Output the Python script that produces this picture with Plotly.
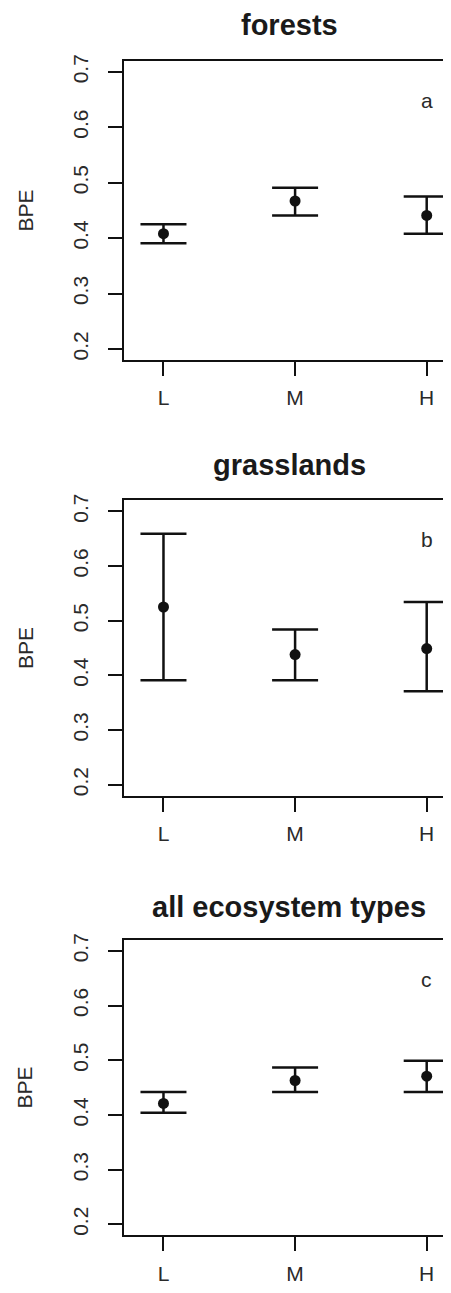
import plotly.graph_objects as go

categories = ["L", "M", "H"]
panel_titles = ["forests", "grasslands", "all ecosystem types"]
panel_letters = ["a", "b", "c"]

forests_mean = [0.408, 0.467, 0.441]
forests_upper = [0.425, 0.491, 0.475]
forests_lower = [0.391, 0.441, 0.408]

grass_mean = [0.525, 0.438, 0.449]
grass_upper = [0.659, 0.484, 0.534]
grass_lower = [0.391, 0.391, 0.371]

all_mean = [0.421, 0.463, 0.471]
all_upper = [0.442, 0.487, 0.499]
all_lower = [0.404, 0.442, 0.442]

y_ticks = [0.2, 0.3, 0.4, 0.5, 0.6, 0.7]
y_label = "BPE"

# the page body has an 8px margin, so the figure is drawn 8px smaller
OFF = 8
W, H = 451 - OFF, 1293 - OFF
FONT = "Arial, Liberation Sans, Helvetica, sans-serif"
INK = "#111111"
TXT = "#2a2a2a"

# pixel boxes (top, bottom) of each panel in page coordinates
boxes = [(54, 355), (496, 793), (938, 1235)]
title_px = [18, 460, 905]
left_px = 124

panels = [
    (forests_mean, forests_upper, forests_lower),
    (grass_mean, grass_upper, grass_lower),
    (all_mean, all_upper, all_lower),
]

def px_x(p):
    return (p - OFF) / W

def px_y(p):
    return 1 - (p - OFF) / H

fig = go.Figure()
layout = dict(
    width=W, height=H,
    margin=dict(l=0, r=0, t=0, b=0),
    paper_bgcolor="white", plot_bgcolor="white",
    showlegend=False,
    font=dict(family=FONT, color=INK, size=21),
)
annotations = []

for i, ((m, up, lo), (top, bot)) in enumerate(zip(panels, boxes)):
    xa = "x" if i == 0 else f"x{i+1}"
    ya = "y" if i == 0 else f"y{i+1}"
    fig.add_trace(go.Scatter(
        x=categories, y=m, xaxis=xa, yaxis=ya, mode="markers",
        marker=dict(size=11, color=INK),
        error_y=dict(type="data", symmetric=False,
                     array=[u - v for u, v in zip(up, m)],
                     arrayminus=[v - l for v, l in zip(m, lo)],
                     color=INK, thickness=2.5, width=23),
        cliponaxis=False,
    ))
    xkey = "xaxis" if i == 0 else f"xaxis{i+1}"
    ykey = "yaxis" if i == 0 else f"yaxis{i+1}"
    layout[xkey] = dict(
        domain=[px_x(left_px), 1], anchor=ya, type="category",
        range=[-0.3, 2.247 - OFF / 128.3], showgrid=False, zeroline=False,
        showline=True, mirror=True, linecolor=INK, linewidth=2,
        ticks="outside", ticklen=14, tickwidth=2, tickcolor=INK,
        tickfont=dict(size=21, color=TXT), ticklabelstandoff=4,
    )
    layout[ykey] = dict(
        domain=[px_y(bot), px_y(top)], anchor=xa,
        range=[0.18, 0.72], showgrid=False, zeroline=False,
        showline=True, linecolor=INK, linewidth=2,
        tickvals=y_ticks, ticktext=[f"{v:.1f}" for v in y_ticks],
        ticks="outside", ticklen=14, tickwidth=2, tickcolor=INK,
        tickangle=-90, tickfont=dict(size=21, color=TXT),
        ticklabelstandoff=12,
    )
    mid = (top + bot) / 2
    annotations.append(dict(
        text=y_label, x=px_x(25), y=px_y(mid), xref="paper", yref="paper",
        textangle=-90, showarrow=False, font=dict(size=21, color=TXT),
        xanchor="center", yanchor="middle",
    ))
    annotations.append(dict(
        text=f"<b>{panel_titles[i]}</b>", x=px_x(289), y=px_y(title_px[i]),
        xref="paper", yref="paper", showarrow=False,
        font=dict(size=29, color="#1a1a1a"), xanchor="center", yanchor="middle",
    ))
    annotations.append(dict(
        text=panel_letters[i], x=categories[2], y=0.648, xref=xa, yref=ya,
        showarrow=False, font=dict(size=21, color=TXT),
        xanchor="center", yanchor="middle",
    ))

layout["annotations"] = annotations
fig.update_layout(**layout)
fig.write_html("out.html")
